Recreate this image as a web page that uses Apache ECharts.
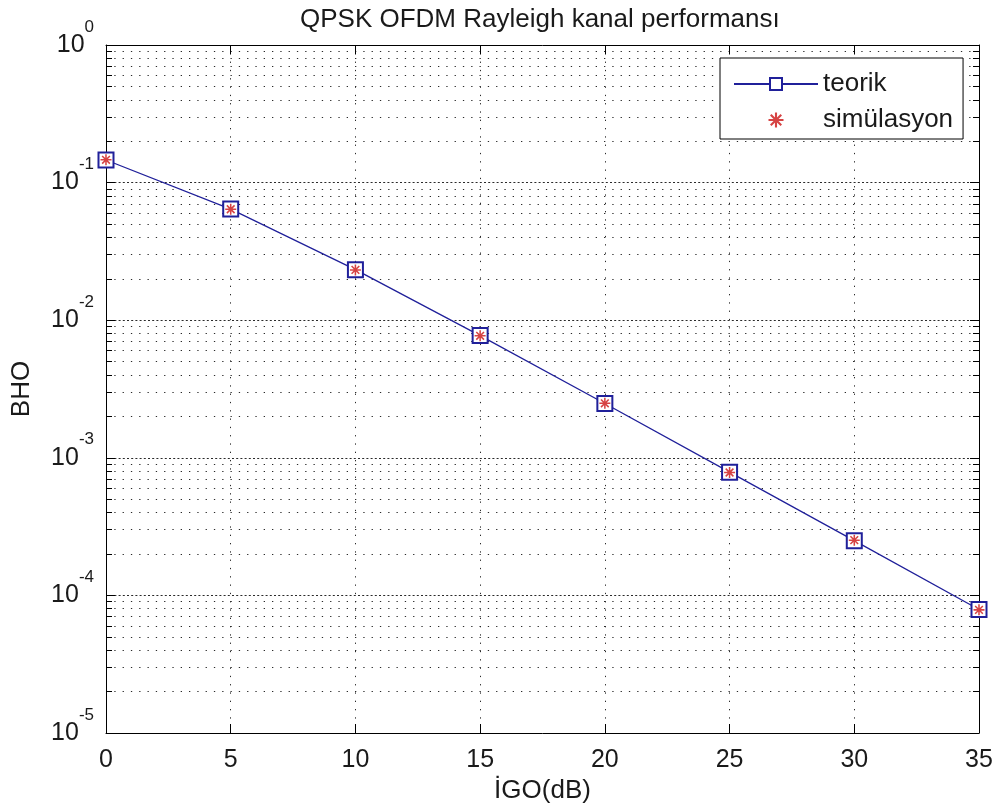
<!DOCTYPE html>
<html><head><meta charset="utf-8">
<script src="https://cdn.jsdelivr.net/npm/echarts@6/dist/echarts.min.js"></script>
<style>html,body{margin:0;padding:0;background:#fff}#c{width:997px;height:809px}</style>
</head><body><div id="c"></div>
<script>
// ---- data ----
const titleText = 'QPSK OFDM Rayleigh kanal performansı';
const xName = 'İGO(dB)';
const yName = 'BHO';
const seriesNames = ['teorik', 'simülasyon'];
const snrDb = [0, 5, 10, 15, 20, 25, 30, 35];
const berTheory = [0.146, 0.0642, 0.0233, 0.00773, 0.00248, 0.000786, 0.000250, 0.0000790];
const berSim = [0.1465, 0.0640, 0.0232, 0.00770, 0.00249, 0.000782, 0.000252, 0.0000785];
const xMin = 0, xMax = 35, xStep = 5;
const yMin = 1e-5, yMax = 1;

// ---- styling ----
const FONT = "'Liberation Sans', Arial, Helvetica, sans-serif";
const TXT = '#1a1a1a';
const LINE_C = '#20209a';
const STAR_C = '#cc1414';
const dotted = { color: '#2a2a2a', width: 1, type: [1.3, 7] };
const dottedMajor = { color: '#2a2a2a', width: 1, type: [2, 2.2] };
const ASTERISK = 'path://M0 8.6L20 8.6L20 11.4L0 11.4Z M8.6 0L11.4 0L11.4 20L8.6 20Z M2 4L4 2L18 16L16 18Z M16 2L18 4L4 18L2 16Z';

const chart = echarts.init(document.getElementById('c'), null, { renderer: 'canvas' });

const boxAxisX = (pos, showLabel) => ({
  type: 'value', position: pos, min: xMin, max: xMax, interval: xStep,
  axisLine: { show: true, onZero: false, lineStyle: { color: '#000', width: 1 } },
  axisTick: { show: true, inside: true, length: 9, lineStyle: { color: '#000', width: 1 } },
  axisLabel: { show: showLabel, fontSize: 25, margin: 15, color: TXT, fontFamily: FONT },
  splitLine: { show: showLabel, lineStyle: dotted }
});
const boxAxisY = (pos, showLabel) => ({
  type: 'log', logBase: 10, position: pos, min: yMin, max: yMax,
  axisLine: { show: true, onZero: false, lineStyle: { color: '#000', width: 1 } },
  axisTick: { show: true, inside: true, length: 9, lineStyle: { color: '#000', width: 1 } },
  minorTick: { show: true, splitNumber: 9, length: 6, lineStyle: { color: '#000', width: 1 } },
  axisLabel: {
    show: showLabel, margin: 12, fontFamily: FONT, color: TXT,
    formatter: v => '{b|10}{e|' + Math.round(Math.log10(v)) + '}',
    rich: {
      b: { fontSize: 25, fontFamily: FONT, color: TXT, verticalAlign: 'middle' },
      e: { fontSize: 17, lineHeight: 17, padding: [0, 0, 36, 0], fontFamily: FONT, color: TXT }
    }
  },
  splitLine: { show: showLabel, lineStyle: dottedMajor },
  minorSplitLine: { show: showLabel, lineStyle: dotted }
});

const xa = boxAxisX('bottom', true);
xa.name = xName; xa.nameLocation = 'middle'; xa.nameGap = 45;
xa.nameTextStyle = { fontSize: 26, color: TXT, fontFamily: FONT };
const ya = boxAxisY('left', true);
ya.name = yName; ya.nameLocation = 'middle'; ya.nameGap = 71; ya.nameRotate = 90;
ya.nameTextStyle = { fontSize: 26, color: TXT, fontFamily: FONT };

chart.setOption({
  animation: false,
  backgroundColor: '#fff',
  textStyle: { fontFamily: FONT },
  title: {
    text: titleText, left: 300, top: 3, padding: [4, 0, 4, 0],
    textStyle: { fontSize: 26, fontWeight: 'normal', color: TXT, fontFamily: FONT }
  },
  grid: { left: 106, right: 18, top: 45, bottom: 76, containLabel: false },
  xAxis: [xa, boxAxisX('top', false)],
  yAxis: [ya, boxAxisY('right', false)],
  legend: {
    orient: 'vertical', left: 720, top: 58,
    backgroundColor: '#fff', borderColor: '#000', borderWidth: 1,
    padding: [13, 10, 6, 13], itemWidth: 84, itemHeight: 15, itemGap: 10,
    textStyle: { fontSize: 26, lineHeight: 25, color: TXT, fontFamily: FONT },
    data: seriesNames
  },
  series: [
    {
      name: seriesNames[0], type: 'line', xAxisIndex: 0, yAxisIndex: 0,
      data: snrDb.map((x, i) => [x, berTheory[i]]),
      symbol: 'emptyRect', symbolSize: 15, showAllSymbol: true,
      lineStyle: { color: LINE_C, width: 1.3 },
      itemStyle: { color: LINE_C, borderColor: LINE_C, borderWidth: 1.3 },
      z: 3
    },
    {
      name: seriesNames[1], type: 'scatter', xAxisIndex: 0, yAxisIndex: 0,
      data: snrDb.map((x, i) => [x, berSim[i]]),
      symbol: ASTERISK, symbolSize: 11,
      itemStyle: { color: STAR_C },
      z: 4
    }
  ]
});
</script></body></html>
